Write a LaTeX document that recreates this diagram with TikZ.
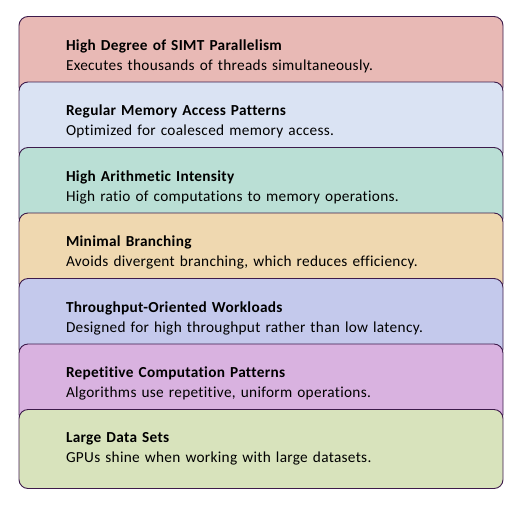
\documentclass[tikz,border=0pt]{standalone}
\usepackage{fontspec}
\setmainfont{Carlito}[Ligatures=NoCommon,LetterSpace=2]
\usetikzlibrary{positioning}
\definecolor{simt}{HTML}{E8B9B5}
\definecolor{memory}{HTML}{DAE3F3}
\definecolor{arith}{HTML}{BADFD5}
\definecolor{branch}{HTML}{EFD8B0}
\definecolor{thru}{HTML}{C4C9EC}
\definecolor{repet}{HTML}{D9B2E0}
\definecolor{data}{HTML}{D8E3BC}
\definecolor{edge}{HTML}{3D1B4B}
\tikzset{box/.style={draw=edge,line width=0.9pt,rounded corners=9pt,minimum width=484pt,minimum height=79pt,text width=390pt,align=left,inner xsep=47pt,font=\fontsize{15.3}{20}\selectfont}}

\begin{document}
\begin{tikzpicture}[x=1pt,y=-1pt]
\useasboundingbox (0,0) rectangle (524,504);
\node[box,fill=simt] (p1) at (261,56) {\textbf{High Degree of SIMT Parallelism}\\Executes thousands of threads simultaneously.};
\node[box,fill=memory] (p2) at (261,121.5) {\textbf{Regular Memory Access Patterns}\\Optimized for coalesced memory access.};
\node[box,fill=arith] (p3) at (261,187) {\textbf{High Arithmetic Intensity}\\High ratio of computations to memory operations.};
\node[box,fill=branch] (p4) at (261,252.5) {\textbf{Minimal Branching}\\Avoids divergent branching, which reduces efficiency.};
\node[box,fill=thru] (p5) at (261,318) {\textbf{Throughput-Oriented Workloads}\\Designed for high throughput rather than low latency.};
\node[box,fill=repet] (p6) at (261,383.5) {\textbf{Repetitive Computation Patterns}\\Algorithms use repetitive, uniform operations.};
\node[box,fill=data] (p7) at (261,449) {\textbf{Large Data Sets}\\GPUs shine when working with large datasets.};
\end{tikzpicture}
\end{document}
